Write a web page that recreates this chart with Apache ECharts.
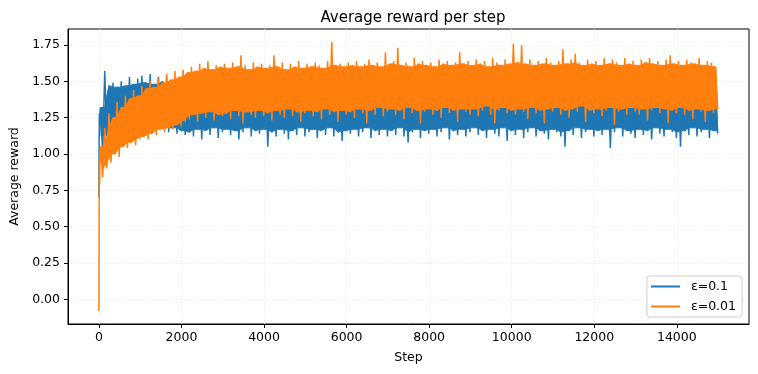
<!DOCTYPE html>
<html>
<head>
<meta charset="utf-8">
<script src="https://cdn.jsdelivr.net/npm/echarts@6/dist/echarts.min.js"></script>
<style>html,body{margin:0;padding:0;background:#fff}#c{width:758px;height:374px}</style>
</head>
<body>
<div id="c"></div>
<script>
// Tick labels
const xTicks = [0, 2000, 4000, 6000, 8000, 10000, 12000, 14000];
const yTicks = [0, 0.25, 0.5, 0.75, 1.0, 1.25, 1.5, 1.75];
const seriesNames = ['ε=0.1', 'ε=0.01'];

// First few steps (step index, values)
const earlySteps = [0, 4, 10, 18, 28];
const blueEarly = [0.70, 1.10, 1.28, 1.12, 1.30];
const orangeEarly = [-0.08, 0.62, 0.96, 0.79, 1.02];

// Sampled envelope readings: peaks at step 40+100*i, troughs at step 90+100*i
const blueHi = [
1.32,1.57,1.47,1.49,1.46,1.50,1.47,1.53,1.48,1.52,
1.54,1.49,1.55,1.48,1.53,1.50,1.52,1.47,1.51,1.49,
1.50,1.47,1.44,1.49,1.45,1.48,1.43,1.50,1.46,1.44,
1.48,1.45,1.50,1.43,1.47,1.46,1.51,1.44,1.48,1.45,
1.47,1.43,1.49,1.46,1.44,1.50,1.45,1.48,1.43,1.47,
1.49,1.44,1.46,1.50,1.45,1.43,1.48,1.46,1.51,1.44,
1.47,1.45,1.49,1.43,1.48,1.46,1.44,1.50,1.45,1.47,
1.44,1.48,1.46,1.50,1.43,1.47,1.45,1.49,1.44,1.48,
1.46,1.50,1.43,1.47,1.45,1.49,1.44,1.48,1.46,1.43,
1.49,1.45,1.47,1.44,1.50,1.46,1.43,1.48,1.45,1.47,
1.44,1.49,1.46,1.48,1.43,1.50,1.45,1.47,1.44,1.48,
1.46,1.43,1.49,1.45,1.47,1.50,1.44,1.48,1.46,1.43,
1.48,1.45,1.50,1.44,1.47,1.46,1.49,1.43,1.48,1.45,
1.47,1.44,1.49,1.46,1.43,1.50,1.45,1.48,1.44,1.47,
1.45,1.49,1.43,1.47,1.46,1.50,1.44,1.48,1.45,1.46];
const blueLo = [
1.00,1.12,1.15,1.14,1.17,1.15,1.16,1.13,1.18,1.15,
1.17,1.14,1.18,1.16,1.19,1.17,1.15,1.18,1.14,1.16,
1.13,1.15,1.12,1.17,1.10,1.16,1.13,1.18,1.11,1.15,
1.17,1.13,1.16,1.10,1.15,1.18,1.12,1.16,1.14,1.17,
1.05,1.15,1.12,1.17,1.14,1.10,1.16,1.13,1.18,1.12,
1.15,1.17,1.11,1.16,1.13,1.18,1.12,1.15,1.09,1.16,
1.14,1.17,1.12,1.15,1.18,1.11,1.16,1.13,1.17,1.12,
1.16,1.13,1.18,1.12,1.08,1.15,1.17,1.11,1.16,1.14,
1.17,1.12,1.15,1.18,1.10,1.16,1.13,1.17,1.12,1.15,
1.18,1.13,1.16,1.11,1.17,1.14,1.12,1.18,1.09,1.16,
1.13,1.17,1.11,1.15,1.18,1.12,1.16,1.14,1.10,1.17,
1.15,1.12,1.05,1.16,1.13,1.18,1.11,1.15,1.17,1.12,
1.16,1.13,1.17,1.04,1.15,1.18,1.12,1.16,1.14,1.11,
1.17,1.13,1.16,1.10,1.18,1.14,1.12,1.17,1.15,1.11,
1.05,1.16,1.13,1.18,1.12,1.15,1.17,1.11,1.16,1.14];
const orangeHi = [
1.05,1.18,1.28,1.25,1.36,1.32,1.40,1.38,1.44,1.40,
1.47,1.45,1.50,1.46,1.52,1.49,1.55,1.51,1.57,1.53,
1.58,1.56,1.60,1.57,1.62,1.59,1.64,1.58,1.61,1.60,
1.62,1.59,1.63,1.60,1.68,1.61,1.58,1.63,1.60,1.62,
1.59,1.61,1.68,1.60,1.63,1.58,1.62,1.60,1.64,1.59,
1.62,1.60,1.63,1.61,1.59,1.64,1.77,1.61,1.62,1.60,
1.63,1.61,1.64,1.60,1.62,1.65,1.61,1.63,1.60,1.70,
1.62,1.64,1.73,1.61,1.63,1.60,1.66,1.62,1.64,1.61,
1.63,1.60,1.65,1.62,1.64,1.61,1.63,1.70,1.62,1.64,
1.61,1.65,1.62,1.64,1.60,1.66,1.63,1.61,1.65,1.62,
1.76,1.63,1.75,1.62,1.65,1.61,1.64,1.62,1.66,1.63,
1.61,1.64,1.72,1.62,1.65,1.69,1.63,1.61,1.65,1.62,
1.64,1.61,1.66,1.62,1.65,1.63,1.61,1.66,1.62,1.64,
1.61,1.65,1.63,1.66,1.62,1.64,1.61,1.65,1.68,1.62,
1.64,1.61,1.65,1.63,1.62,1.66,1.61,1.64,1.63,1.60];
const orangeLo = [
0.84,0.90,0.94,1.00,0.98,1.05,1.04,1.08,1.06,1.10,
1.12,1.10,1.14,1.13,1.17,1.15,1.18,1.17,1.20,1.19,
1.22,1.24,1.27,1.22,1.28,1.25,1.29,1.23,1.27,1.26,
1.28,1.24,1.30,1.26,1.21,1.29,1.27,1.25,1.30,1.26,
1.28,1.23,1.30,1.27,1.25,1.31,1.26,1.29,1.22,1.28,
1.30,1.26,1.29,1.24,1.31,1.27,1.29,1.22,1.30,1.27,
1.29,1.25,1.31,1.28,1.21,1.30,1.27,1.32,1.26,1.29,
1.31,1.27,1.30,1.24,1.32,1.28,1.30,1.21,1.29,1.31,
1.27,1.30,1.25,1.32,1.28,1.30,1.22,1.31,1.29,1.27,
1.31,1.26,1.30,1.33,1.27,1.21,1.30,1.32,1.28,1.30,
1.27,1.31,1.29,1.24,1.32,1.28,1.30,1.21,1.31,1.29,
1.32,1.27,1.30,1.25,1.31,1.29,1.33,1.22,1.30,1.28,
1.31,1.26,1.30,1.32,1.20,1.29,1.31,1.27,1.32,1.29,
1.27,1.31,1.23,1.30,1.32,1.28,1.31,1.21,1.30,1.28,
1.32,1.27,1.30,1.24,1.31,1.29,1.22,1.30,1.28,1.31];

const PEAK_OFFSET = 40, TROUGH_OFFSET = 90, SAMPLE = 100;

// zigzag trace as [step, value] pairs
function zigzag(early, hi, lo) {
  const out = [];
  earlySteps.forEach((s, k) => out.push([s, early[k]]));
  for (let i = 0; i < hi.length; i++) {
    out.push([PEAK_OFFSET + i * SAMPLE, hi[i]]);
    out.push([TROUGH_OFFSET + i * SAMPLE, lo[i]]);
  }
  return out;
}
// solid core of the band: spikes left to the zigzag line
function hull(hi, lo) {
  const n = hi.length, out = [];
  const a = i => Math.max(0, i - 1), b = i => Math.min(n - 1, i + 1);
  for (let i = 0; i < n; i++) out.push([PEAK_OFFSET + i * SAMPLE, Math.min(hi[a(i)], hi[i], hi[b(i)])]);
  for (let i = n - 1; i >= 0; i--) out.push([TROUGH_OFFSET + i * SAMPLE, Math.max(lo[a(i)], lo[i], lo[b(i)])]);
  return out;
}

function bandSeries(name, color, early, hi, lo, z) {
  const zig = zigzag(early, hi, lo);
  const poly = hull(hi, lo);
  return {
    name: name, type: 'custom', z: z, color: color, itemStyle: {color: color},
    data: [[0, 0]], encode: {x: 0, y: 1}, silent: true,
    renderItem: function (params, api) {
      const polyPts = poly.map(p => api.coord(p));
      const zigPts = zig.map(p => api.coord(p));
      return {
        type: 'group',
        children: [
          {type: 'polygon', shape: {points: polyPts}, style: {fill: color, stroke: color, lineWidth: 1}},
          {type: 'polyline', shape: {points: zigPts}, style: {fill: null, stroke: color, lineWidth: 1.5, lineJoin: 'miter', miterLimit: 4}}
        ]
      };
    }
  };
}

const FONT = 'DejaVu Sans';
const chart = echarts.init(document.getElementById('c'), null, {renderer: 'canvas'});
chart.setOption({
  animation: false,
  backgroundColor: '#ffffff',
  textStyle: {fontFamily: FONT},
  title: {
    text: 'Average reward per step',
    left: 408, top: 6, textAlign: 'center',
    textStyle: {fontFamily: FONT, fontSize: 15, fontWeight: 'normal', color: '#000'}
  },
  grid: {left: 67, top: 29, width: 682, height: 295, show: true, borderColor: '#000', borderWidth: 1, backgroundColor: 'transparent', containLabel: false},
  legend: {
    right: 16, bottom: 57, orient: 'vertical',
    data: seriesNames.map(n => ({name: n, icon: 'rect'})),
    itemWidth: 29, itemHeight: 2, itemGap: 5,
    padding: [3, 6, 3, 4],
    backgroundColor: 'rgba(255,255,255,0.8)', borderColor: '#cccccc', borderWidth: 1, borderRadius: 3,
    textStyle: {fontFamily: FONT, fontSize: 12.5, color: '#000', lineHeight: 15, padding: [0, 0, 0, 6]}
  },
  xAxis: {
    type: 'value', min: -750, max: 15749,
    name: 'Step', nameLocation: 'middle', nameGap: 27,
    nameTextStyle: {fontFamily: FONT, fontSize: 12.5, color: '#000'},
    axisLine: {show: true, onZero: false, lineStyle: {color: '#000', width: 1}},
    axisTick: {show: true, inside: false, length: 4, customValues: xTicks, lineStyle: {color: '#000'}},
    axisLabel: {customValues: xTicks, margin: 7, fontFamily: FONT, fontSize: 12.5, color: '#000', formatter: v => String(v)},
    splitLine: {show: true, lineStyle: {color: '#e3e3e3', type: [1, 2], width: 0.8}}
  },
  yAxis: {
    type: 'value', min: -0.17, max: 1.86,
    name: 'Average reward', nameLocation: 'middle', nameGap: 47, nameRotate: 90,
    nameTextStyle: {fontFamily: FONT, fontSize: 12.5, color: '#000'},
    axisLine: {show: true, onZero: false, lineStyle: {color: '#000', width: 1}},
    axisTick: {show: true, inside: false, length: 4, customValues: yTicks, lineStyle: {color: '#000'}},
    axisLabel: {customValues: yTicks, margin: 8, fontFamily: FONT, fontSize: 12.5, color: '#000', formatter: v => v.toFixed(2)},
    splitLine: {show: true, lineStyle: {color: '#e3e3e3', type: [1, 2], width: 0.8}}
  },
  series: [
    bandSeries(seriesNames[0], '#1f77b4', blueEarly, blueHi, blueLo, 2),
    bandSeries(seriesNames[1], '#ff7f0e', orangeEarly, orangeHi, orangeLo, 3)
  ]
});
</script>
</body>
</html>
